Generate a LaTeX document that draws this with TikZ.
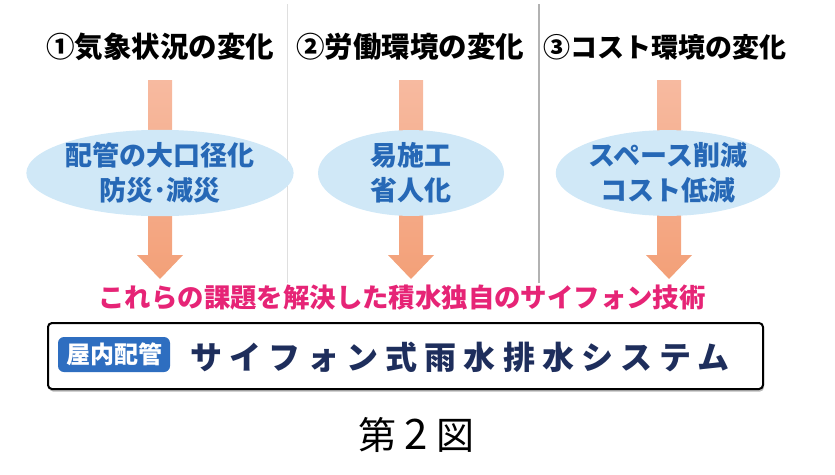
\documentclass[tikz,border=0pt]{standalone}
\usepackage{fontspec}
\newfontfamily\jp{Noto Sans CJK JP}
\usetikzlibrary{shapes.geometric,shadows}

\definecolor{pfeiloben}{RGB}{247,186,160}
\definecolor{pfeilunten}{RGB}{243,160,120}
\definecolor{blasenblau}{RGB}{208,232,247}
\definecolor{textblau}{RGB}{38,104,182}
\definecolor{pink}{RGB}{230,36,118}
\definecolor{marine}{RGB}{30,46,92}
\definecolor{etikettblau}{RGB}{46,110,192}

% Blockpfeil, #1 = Mitte x
\newcommand{\blockpfeil}[1]{%
  \shade[top color=pfeiloben, bottom color=pfeilunten]
    (#1-12,80) -- (#1+12,80) -- (#1+12,255) -- (#1+23,255) -- (#1,279)
    -- (#1-23,255) -- (#1-12,255) -- cycle;}

\tikzset{
  titel/.style={font=\jp\bfseries\fontsize{28.5}{30}\selectfont, text=black, inner sep=0pt},
  blase/.style={ellipse, fill=blasenblau, minimum width=194, minimum height=80, inner sep=0pt,
    align=center, text=textblau, font=\jp\bfseries\fontsize{27}{35}\selectfont},
  etikett/.style={fill=etikettblau, rounded corners=6, minimum width=112, minimum height=35,
    inner sep=0pt, text=white, font=\jp\bfseries\fontsize{24}{26}\selectfont}
}

\begin{document}
\begin{tikzpicture}[x=1pt, y=-1pt]
    \useasboundingbox (0,0) rectangle (835,474);

    % Trennlinien
    \draw[gray!25, line width=1pt] (287,4) -- (287,283);
    \draw[gray!60, line width=1.2pt] (539,4) -- (539,283);

    % Ueberschriften
    \node[titel] (t1) at (160,47) {①気象状況の変化};
    \node[titel] (t2) at (410,47) {②労働環境の変化};
    \node[titel, font=\jp\bfseries\fontsize{27}{30}\selectfont] (t3) at (665,47) {③コスト環境の変化};

    % Pfeile
    \blockpfeil{160}
    \blockpfeil{411}
    \blockpfeil{669}

    % Blasen
    \node[blase] (b1) at (160,173) {配管の大口径化\\防災･減災};
    \node[blase, minimum width=186] (b2) at (411,173) {易施工\\省人化};
    \node[blase] (b3) at (668,173) {スペース削減\\コスト低減};

    % Loesung
    \node[font=\jp\bfseries\fontsize{26.4}{29}\selectfont, text=pink, inner sep=0pt] (loesung) at (402,298)
        {これらの課題を解決した積水独自のサイフォン技術};

    % Kasten mit System
    \node[draw=black, line width=2pt, rounded corners=4, fill=white, minimum width=715, minimum height=66,
        drop shadow={shadow xshift=1pt, shadow yshift=-2.5pt, fill=gray!55, opacity=1}] (kasten) at (405.5,356) {};
    \node[etikett] (innen) at (114,354.5) {屋内配管};
    \node[font=\jp\bfseries\fontsize{32}{34}\selectfont\addfontfeature{LetterSpace=22}, text=marine, inner sep=0pt]
        (system) at (460,357) {サイフォン式雨水排水システム};

    % Bildunterschrift
    \node[font=\jp\fontsize{38}{40}\selectfont, inner sep=0pt] (unterschrift) at (416.5,435) {第 {\fontsize{42}{40}\selectfont 2} 図};
\end{tikzpicture}
\end{document}
